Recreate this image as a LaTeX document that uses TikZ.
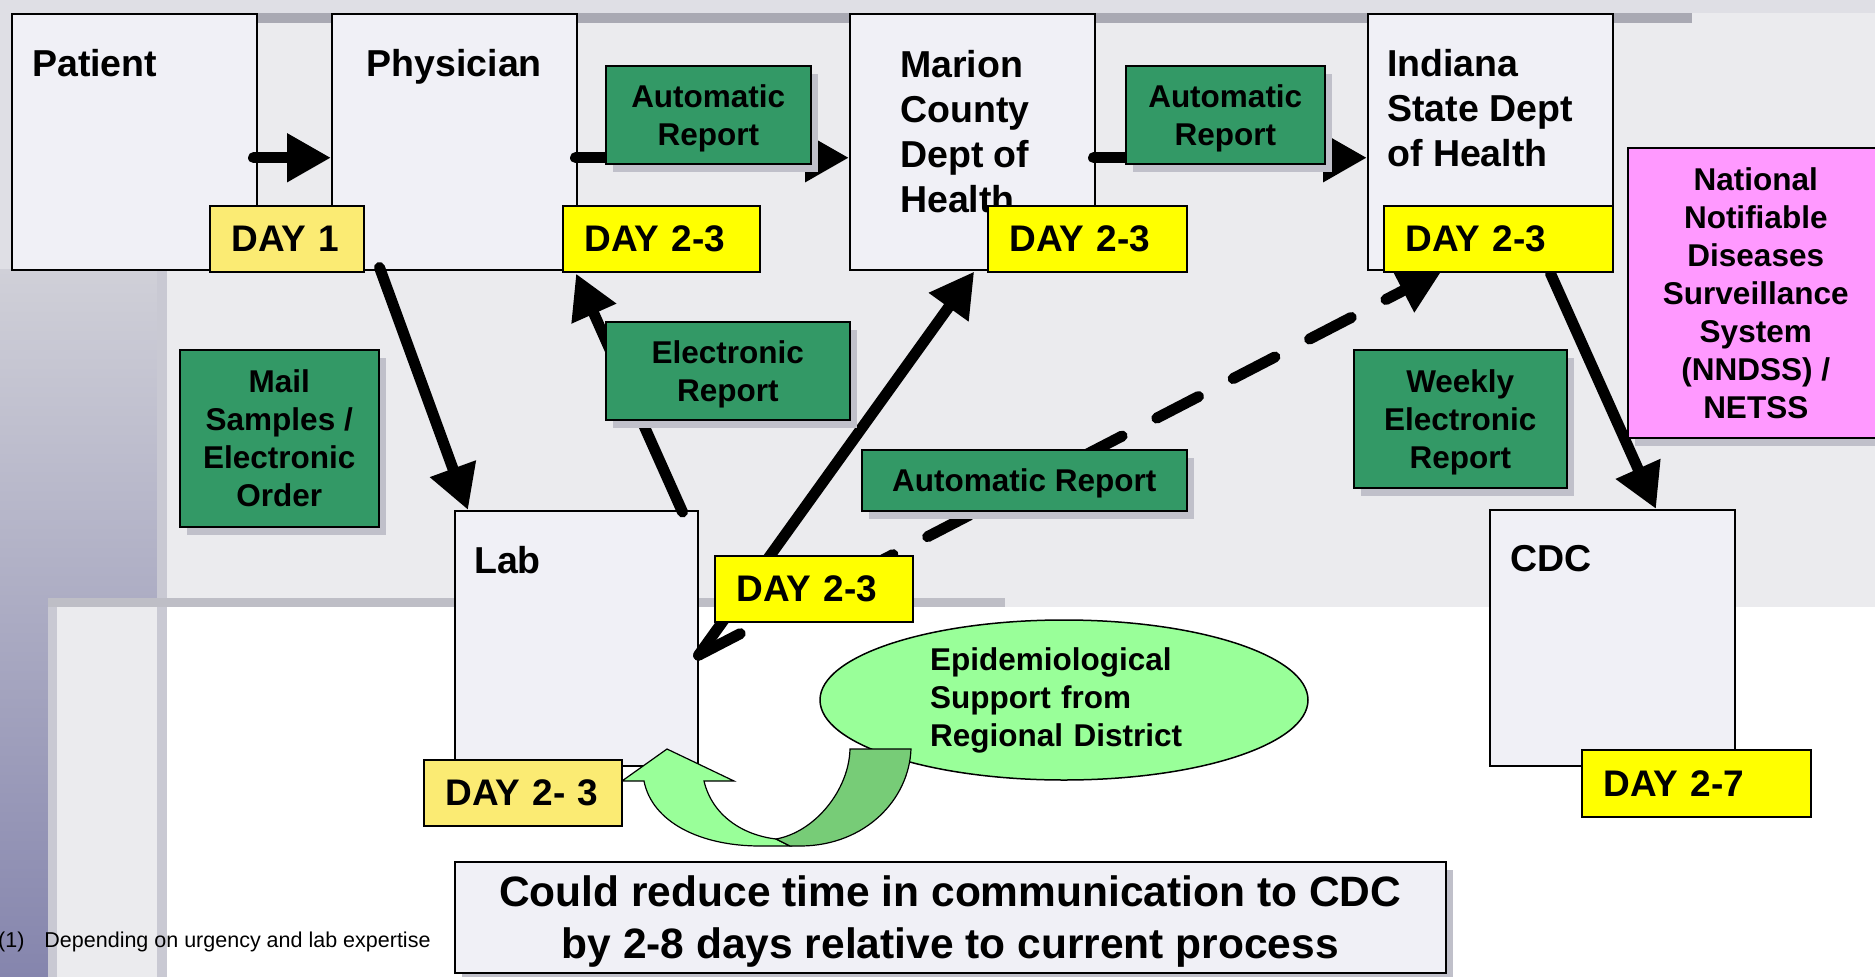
\documentclass[tikz,border=0pt]{standalone}
\usepackage{fontspec}
\setmainfont{Liberation Sans}
\usetikzlibrary{arrows.meta, shapes.geometric, shadows}

\pgfdeclarelayer{decor}
\pgfdeclarelayer{links}
\pgfsetlayers{decor,links,main}

\definecolor{slidebg}{HTML}{EBEBEE}
\definecolor{slidetop}{HTML}{DFDFE5}
\definecolor{slidebar}{HTML}{A9A9B3}
\definecolor{slideband}{HTML}{C9C9D3}
\definecolor{sidetop}{HTML}{D0D0D8}
\definecolor{sidebottom}{HTML}{8585AD}
\definecolor{boxfill}{HTML}{F0F0F6}
\definecolor{reportgreen}{HTML}{339966}
\definecolor{dayyellow}{HTML}{FFFF00}
\definecolor{daypale}{HTML}{FBEB73}
\definecolor{nndsspink}{HTML}{FF99FF}
\definecolor{epigreen}{HTML}{99FF99}
\definecolor{epidark}{HTML}{77CC77}
\definecolor{shadowgray}{HTML}{C0C0CA}

\tikzset{
	entity/.style={draw, line width=1.5pt, fill=boxfill, anchor=north west, minimum width=245pt, minimum height=256pt, inner sep=0pt},
	title/.style={font=\fontsize{37.5pt}{45pt}\selectfont\bfseries, inner sep=0pt, align=left},
	daytag/.style={draw, line width=1.5pt, fill=dayyellow, anchor=north west, minimum height=66pt, inner xsep=22pt, inner ysep=0pt, text width=#1, align=left, font=\fontsize{37pt}{44pt}\selectfont\bfseries},
	report/.style={draw, line width=1.5pt, fill=reportgreen, anchor=north west, align=center, inner sep=0pt, text depth=0pt, font=\fontsize{31.5pt}{38pt}\selectfont\bfseries, drop shadow={shadow xshift=7pt, shadow yshift=-8pt, fill=shadowgray, opacity=1}},
	flow/.style={line width=11pt, line cap=round, -{Triangle[length=44pt, width=46pt]}}
}

\begin{document}
\begin{tikzpicture}[x=1pt, y=-1pt]
	\useasboundingbox (0,0) rectangle (1875,977);
	\begin{pgfonlayer}{decor}
		\fill[slidebg] (0,0) rectangle (1875,977);
		\fill[slidetop] (0,0) rectangle (1875,13);
		\fill[slidetop] (0,0) rectangle (11,269);
		\shade[top color=sidetop, bottom color=sidebottom] (0,269) rectangle (157,977);
		\fill[slideband] (157,269) rectangle (167,977);
		\fill[slidebar] (257,13) rectangle (1692,23);
		\fill[slidebar!75] (48,598) rectangle (1005,607);
		\fill[slideband] (48,607) rectangle (57,977);
		\fill[slidebg] (57,607) rectangle (157,977);
		\fill[white] (167,607) rectangle (1875,977);

		\node[entity, label={[title, anchor=north west, xshift=21pt, yshift=-36pt]north west:Patient}] (patient) at (11,13) {};
		\node[entity, label={[title, anchor=north, yshift=-36pt]north:Physician}] (physician) at (331,13) {};
		\node[entity, label={[title, anchor=north west, xshift=51pt, yshift=-37pt]north west:Marion\\County\\Dept of\\Health}] (marion) at (849,13) {};
		\node[entity, label={[title, anchor=north west, xshift=20pt, yshift=-36pt]north west:Indiana\\State Dept\\of Health}] (indiana) at (1367,13) {};
		\node[entity, minimum width=243pt, minimum height=255pt, label={[title, anchor=north west, xshift=20pt, yshift=-36pt]north west:Lab}] (lab) at (454,510) {};
		\node[entity, label={[title, anchor=north west, xshift=21pt, yshift=-36pt]north west:CDC}] (cdc) at (1489,509) {};
	\end{pgfonlayer}

	\node[daytag=110pt, fill=daypale] (daypat) at (209,205) {DAY 1};
	\node[daytag=153pt] (dayphys) at (562,205) {DAY 2-3};
	\node[daytag=155pt] (daymar) at (987,205) {DAY 2-3};
	\node[daytag=185pt] (dayind) at (1383,205) {DAY 2-3};
	\node[daytag=154pt] (daymid) at (714,555) {DAY 2-3};
	\node[daytag=185pt, minimum height=67pt] (daycdc) at (1581,749) {DAY 2-7};

	\node[report, minimum width=205pt, minimum height=98pt] (autoA) at (605,65) {Automatic\\Report};
	\node[report, minimum width=199pt, minimum height=98pt] (autoB) at (1125,65) {Automatic\\Report};
	\node[report, minimum width=244pt, minimum height=98pt] (elec) at (605,321) {Electronic\\Report};
	\node[report, minimum width=199pt, minimum height=177pt] (mail) at (179,349) {Mail\\Samples /\\Electronic\\Order};
	\node[report, minimum width=325pt, minimum height=61pt] (autoC) at (861,449) {Automatic Report};
	\node[report, minimum width=213pt, minimum height=138pt] (weekly) at (1353,349) {Weekly\\Electronic\\Report};
	\node[report, fill=nndsspink, minimum width=256pt, minimum height=290pt] (nndss) at (1627,147) {National\\Notifiable\\Diseases\\Surveillance\\System\\(NNDSS) /\\NETSS};

	\node[draw, ellipse, line width=1.5pt, fill=epigreen, minimum width=488pt, minimum height=160pt, inner sep=0pt, text width=268pt, align=left, font=\fontsize{31.5pt}{38pt}\selectfont\bfseries] (epi) at (1064,700) {Epidemiological\\Support from\\Regional District};
	\filldraw[fill=epigreen, line width=1.2pt] (644,781) .. controls (652,822) and (700,846) .. (760,846) -- (790,846) -- (776,839) .. controls (742,835) and (712,815) .. (704,781) -- (734,781) -- (667,749) -- (622,781) -- cycle;
	\filldraw[fill=epidark, line width=1.2pt] (850,749) .. controls (849,790) and (815,832) .. (776,839) -- (790,846) -- (802,846) .. controls (865,845) and (909,800) .. (911,749) -- cycle;
	\node[daytag=154pt, fill=daypale] (daylab) at (423,759) {DAY 2- 3};

	\node[report, fill=boxfill, minimum width=991pt, minimum height=111pt, font=\fontsize{42.5pt}{52pt}\selectfont\bfseries] (gain) at (454,861) {Could reduce time in communication to CDC\\by 2-8 days relative to current process};
	\node[anchor=base west, inner sep=0pt, font=\fontsize{21.5pt}{26pt}\selectfont] (note) at (-2,947) {(1)\hspace{20pt}Depending on urgency and lab expertise};

	\begin{pgfonlayer}{links}
		\path[flow]
			([shift={(-4,16)}]patient.east) edge ([shift={(0,16)}]physician.west)
			([shift={(-2,16)}]physician.east) edge ([shift={(0,16)}]marion.west)
			([shift={(-2,16)}]marion.east) edge ([shift={(0,16)}]indiana.west)
			([shift={(15,-5)}]daypat.south east) edge ([shift={(14,0)}]lab.north west)
			([shift={(-16,2)}]lab.north east) edge ([shift={(14,1)}]dayphys.south west)
			([shift={(0,17)}]lab.east) edge ([shift={(2,1)}]marion.south)
			([shift={(-63,1)}]dayind.south east) edge ([shift={(167,0)}]cdc.north west)
			([shift={(0,17)}]lab.east) edge[dash pattern=on 47pt off 39pt] ([shift={(59,-2)}]dayind.south west);
	\end{pgfonlayer}
\end{tikzpicture}
\end{document}
